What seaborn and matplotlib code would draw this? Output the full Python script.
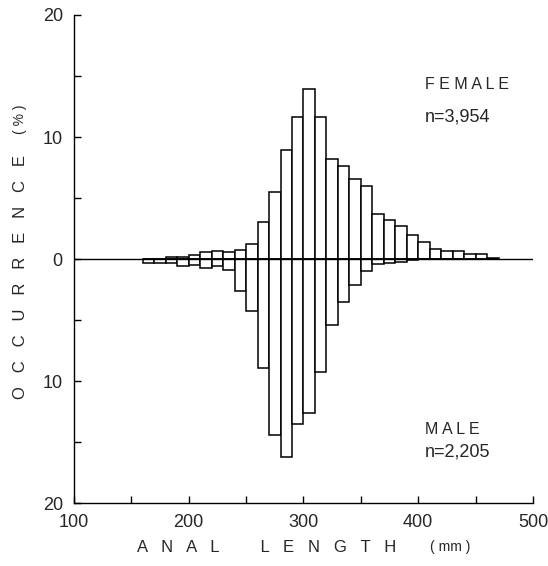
import matplotlib
matplotlib.use('Agg')
import matplotlib.pyplot as plt
import seaborn as sns
from matplotlib.ticker import MultipleLocator, FuncFormatter

# classes de comprimento (mm), limite inferior de cada classe de 10 mm
bin_start = list(range(160, 470, 10))
bin_center = [b + 5 for b in bin_start]

# ocorrência (%) - fêmeas (para cima) e machos (para baixo)
female = [0, 0, 0.15, 0.2, 0.35, 0.55, 0.63, 0.58, 0.77, 1.26,
          3.0, 5.5, 8.95, 11.6, 13.9, 11.6, 8.2, 7.6, 6.55, 6.0,
          3.7, 3.2, 2.7, 2.0, 1.37, 0.82, 0.68, 0.68, 0.41, 0.41, 0.1]
male = [0.3, 0.3, 0.3, 0.55, 0.5, 0.74, 0.6, 0.9, 2.6, 4.3,
        8.9, 14.4, 16.2, 13.5, 12.6, 9.3, 5.4, 3.5, 2.1, 0.96,
        0.44, 0.35, 0.25, 0.1, 0, 0, 0, 0, 0, 0, 0]
male_neg = [-v for v in male]

female_label = ['F E M A L E', 'n=3,954']
male_label = ['M A L E', 'n=2,205']

sns.set_style('ticks')
plt.rcParams['font.family'] = ['Liberation Sans', 'DejaVu Sans']

fig = plt.figure(figsize=(5.48, 5.66), dpi=100)
ax = fig.add_axes([0.135, 0.1113, 0.8376, 0.8622])

sns.barplot(x=bin_center, y=female, native_scale=True, width=1, color='white',
            saturation=1, edgecolor='black', linewidth=1.1, errorbar=None, ax=ax)
sns.barplot(x=bin_center, y=male_neg, native_scale=True, width=1, color='white',
            saturation=1, edgecolor='black', linewidth=1.1, errorbar=None, ax=ax)
ax.axhline(0, color='black', linewidth=1, zorder=5)

ax.set_xlim(100, 500)
ax.set_ylim(-20, 20)
ax.xaxis.set_major_locator(MultipleLocator(100))
ax.xaxis.set_minor_locator(MultipleLocator(50))
ax.yaxis.set_major_locator(MultipleLocator(10))
ax.yaxis.set_minor_locator(MultipleLocator(5))
ax.yaxis.set_major_formatter(FuncFormatter(lambda v, p: f'{abs(v):.0f}'))
ax.tick_params(which='both', direction='in', length=5, width=1, color='black',
               labelsize=13, pad=8)
ax.set_xlabel('')
ax.set_ylabel('')
for s in ['top', 'right']:
    ax.spines[s].set_visible(False)
for s in ['left', 'bottom']:
    ax.spines[s].set_linewidth(1)
    ax.spines[s].set_color('black')

ax.text(406, 14.3, female_label[0], fontsize=11.5, va='center')
ax.text(406, 11.6, female_label[1], fontsize=13, va='center')
ax.text(406, -14.0, male_label[0], fontsize=11.5, va='center')
ax.text(406, -15.8, male_label[1], fontsize=13, va='center')

fig.text(0.037, 0.51, 'O   C   C   U   R   R   E   N   C   E', rotation=90,
         fontsize=12, ha='center', va='center')
fig.text(0.037, 0.79, '( % )', rotation=90, fontsize=10, ha='center', va='center')
fig.text(0.486, 0.032, 'A   N   A   L         L   E   N   G   T   H',
         fontsize=12, ha='center', va='center')
fig.text(0.822, 0.034, '( mm )', fontsize=10, ha='center', va='center')

plt.savefig('out.png', dpi=100)
plt.close()
